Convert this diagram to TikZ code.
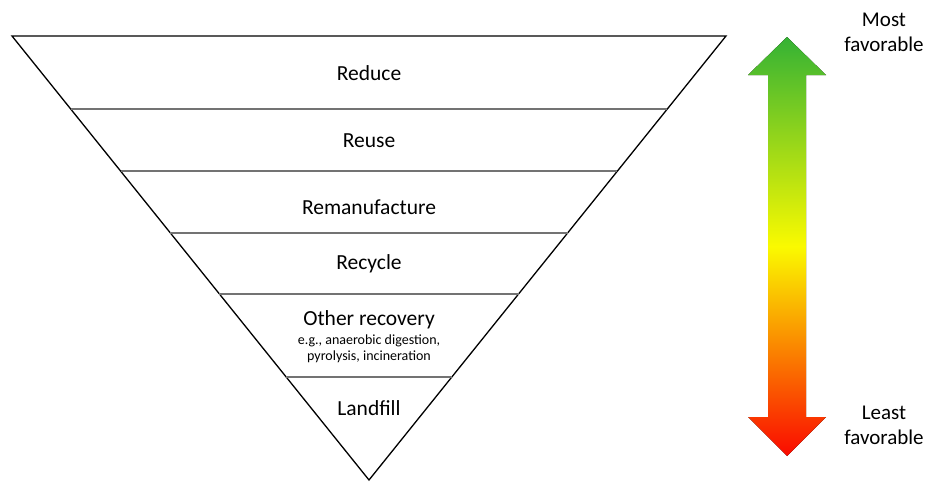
\documentclass[tikz,border=0pt]{standalone}
\usepackage{fontspec}
\setmainfont{Carlito}
\usetikzlibrary{calc,positioning}
\definecolor{bestgreen}{RGB}{52,178,52}
\definecolor{midyellow}{RGB}{250,250,0}
\definecolor{worstred}{RGB}{250,10,0}

\begin{document}
\begin{tikzpicture}[x=1pt,y=-1pt,
        tier/.style={draw=black!55, line width=1.6pt},
        level/.style={font=\fontsize{21.5}{24}\selectfont},
        note/.style={font=\fontsize{14}{15.5}\selectfont, align=center},
        side/.style={font=\fontsize{21}{25}\selectfont, align=center}]
        \useasboundingbox (0,0) rectangle (928,482);
        \coordinate (tl) at (12,36);
        \coordinate (tr) at (726,36);
        \coordinate (apex) at (369,480);

        % pyramid
        \draw[line width=1.3pt, line join=miter] (tl) -- (tr) -- (apex) -- cycle;
        \foreach \yy in {109,171,233,294,377}{
            \pgfmathsetmacro\lev{(\yy-36)/444}
            \draw[tier] ($(tl)!\lev!(apex)$) -- ($(tr)!\lev!(apex)$);
        }

        \node (reduce) [level] at (369,73) {Reduce};
        \node (reuse) [level] at (369,141) {Reuse};
        \node (reman) [level] at (369,207) {Remanufacture};
        \node (recycle) [level] at (369,264) {Recycle};
        \node (other) [level] at (369,320) {Other recovery};
        \node (example) [note, below=-1pt of other] {e.g., anaerobic digestion,\\pyrolysis, incineration};
        \node (landfill) [level] at (369,408) {Landfill};

        % arrow
        \fill[top color=bestgreen, bottom color=worstred, middle color=midyellow]
            (787,37) -- (826,75) -- (806,75) -- (806,417) -- (826,417) -- (787,456)
            -- (748,417) -- (768,417) -- (768,75) -- (748,75) -- cycle;

        \node (most) [side] at (884,32) {Most\\favorable};
        \node (least) [side] at (884,425) {Least\\favorable};
    \end{tikzpicture}
\end{document}
